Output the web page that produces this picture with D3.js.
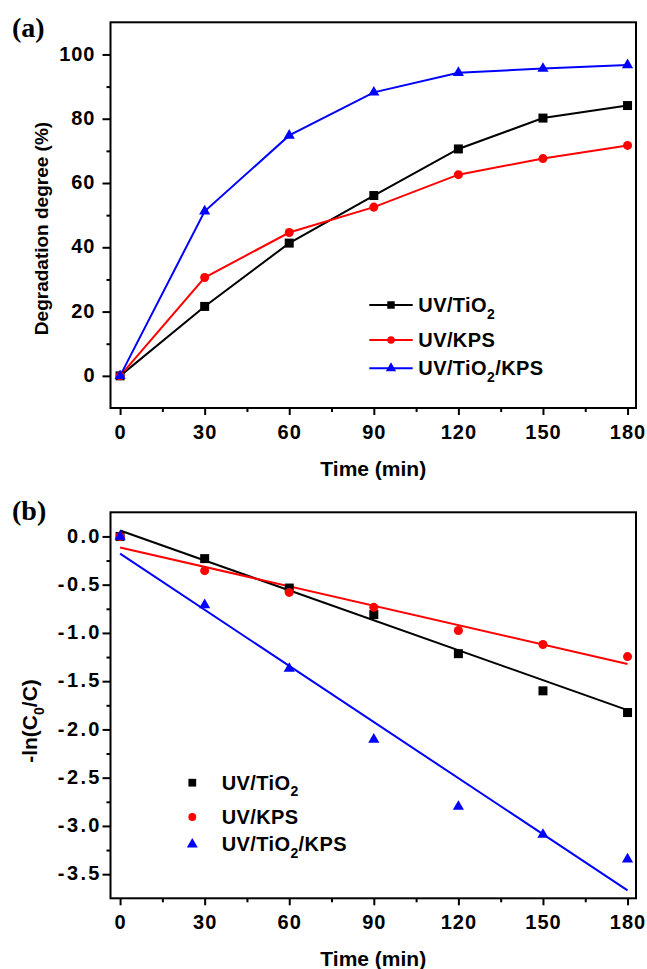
<!DOCTYPE html>
<html>
<head>
<meta charset="utf-8">
<script src="https://cdn.jsdelivr.net/npm/d3@7"></script>
<style>
body { margin: 0; background: #fff; }
svg text { font-family: "Liberation Sans", Arial, sans-serif; font-weight: bold; fill: #000; }
.axis .domain { display: none; }
.axis line { stroke: #000; stroke-width: 2px; }
</style>
</head>
<body>
<div class="mainviz"></div>
<script>
var times = [0, 30, 60, 90, 120, 150, 180];
var seriesNames = ["UV/TiO2", "UV/KPS", "UV/TiO2/KPS"];
var seriesColors = ["#000000", "#ff0000", "#0000ff"];

// (a) degradation degree (%)
var degTiO2 = [0, 21.6, 41.3, 56.1, 70.6, 80.2, 84.1];
var degKPS = [0, 30.6, 44.6, 52.5, 62.6, 67.6, 71.7];
var degTiO2KPS = [0, 51.2, 74.8, 88.2, 94.3, 95.6, 96.7];

// (b) -ln(C0/C)
var lnTiO2 = [0, -0.23, -0.535, -0.81, -1.215, -1.6, -1.825];
var lnKPS = [0, -0.355, -0.58, -0.735, -0.975, -1.12, -1.245];
var lnTiO2KPS = [0, -0.71, -1.37, -2.105, -2.8, -3.09, -3.345];

// fitted lines in (b): value at the first and last time
var fitTimes = [0, 180];
var fitTiO2 = [0.062, -1.80];
var fitKPS = [-0.114, -1.322];
var fitTiO2KPS = [-0.179, -3.668];

var xTicks = [0, 30, 60, 90, 120, 150, 180];
var xMinor = [15, 45, 75, 105, 135, 165];
var yTicksA = [0, 20, 40, 60, 80, 100];
var yMinorA = [10, 30, 50, 70, 90];
var yTicksB = [0, -0.5, -1.0, -1.5, -2.0, -2.5, -3.0, -3.5];
var yMinorB = [-0.25, -0.75, -1.25, -1.75, -2.25, -2.75, -3.25];

var symbols = [d3.symbolSquare, d3.symbolCircle, d3.symbolTriangle];
var symbolSizes = [81, 64, 54];

var width = 647, height = 969;
var plotLeft = 110.5, plotRight = 636;

var svg = d3.select(".mainviz").append("svg")
	.attr("width", width)
	.attr("height", height);

var x = d3.scaleLinear()
	.domain([-3.4, 183])
	.range([plotLeft, plotRight]);

function subLabel(sel, name, size, sub) {
	// "UV/TiO2/KPS" with the 2 written as subscript
	var parts = name.split("2");
	sel.append("tspan").text(parts[0]);
	for (var i = 1; i < parts.length; i++) {
		sel.append("tspan").attr("font-size", sub).attr("dy", 6.5).text("2");
		sel.append("tspan").attr("font-size", size).attr("dy", -6.5).text(parts[i]);
	}
}

function drawPanel(p) {
	var y = d3.scaleLinear()
		.domain(p.domain)
		.range([p.bottom, p.top]);

	var g = svg.append("g");

	// minor ticks
	g.append("g")
		.attr("class", "axis")
		.attr("transform", "translate(0," + p.bottom + ")")
		.call(d3.axisBottom(x).tickValues(xMinor).tickSize(4).tickFormat(""));
	g.append("g")
		.attr("class", "axis")
		.attr("transform", "translate(" + plotLeft + ",0)")
		.call(d3.axisLeft(y).tickValues(p.yMinor).tickSize(4).tickFormat(""));

	// major ticks
	var xa = g.append("g")
		.attr("class", "axis")
		.attr("transform", "translate(0," + p.bottom + ")")
		.call(d3.axisBottom(x).tickValues(xTicks).tickSize(7));
	xa.selectAll("text")
		.attr("y", 31)
		.attr("dy", null)
		.style("font-size", "20px")
		.style("letter-spacing", "1px")
		.style("font-family", "'Liberation Sans', Arial, sans-serif")
		.style("font-weight", "bold");

	var ya = g.append("g")
		.attr("class", "axis")
		.attr("transform", "translate(" + plotLeft + ",0)")
		.call(d3.axisLeft(y).tickValues(p.yTicks).tickSize(8).tickFormat(p.yFormat));
	ya.selectAll("text")
		.attr("x", p.yLabelEnd - plotLeft + p.yLetter)
		.attr("dy", null)
		.attr("y", 5.6)
		.style("font-size", "20px")
		.style("letter-spacing", p.yLetter + "px")
		.style("font-family", "'Liberation Sans', Arial, sans-serif")
		.style("font-weight", "bold");

	// frame
	g.append("rect")
		.attr("x", plotLeft)
		.attr("y", p.top)
		.attr("width", plotRight - plotLeft)
		.attr("height", p.bottom - p.top)
		.attr("fill", "none")
		.attr("stroke", "#000")
		.attr("stroke-width", 2);

	var line = d3.line()
		.x(function(d){ return x(d.t); })
		.y(function(d){ return y(d.v); });

	p.series.forEach(function(vals, i){
		var data = times.map(function(t, k){ return { t: t, v: vals[k] }; });
		if (p.connect) {
			g.append("path")
				.attr("d", line(data))
				.attr("fill", "none")
				.attr("stroke", seriesColors[i])
				.attr("stroke-width", 2);
		}
		if (p.fits) {
			var fd = fitTimes.map(function(t, k){ return { t: t, v: p.fits[i][k] }; });
			g.append("path")
				.attr("d", line(fd))
				.attr("fill", "none")
				.attr("stroke", seriesColors[i])
				.attr("stroke-width", 2);
		}
	});
	p.series.forEach(function(vals, i){
		var data = times.map(function(t, k){ return { t: t, v: vals[k] }; });
		g.selectAll("path.m" + i)
			.data(data)
			.enter().append("path")
			.attr("class", "m" + i)
			.attr("d", d3.symbol().type(symbols[i]).size(symbolSizes[i]))
			.attr("transform", function(d){ return "translate(" + x(d.t) + "," + y(d.v) + ")"; })
			.attr("fill", seriesColors[i]);
	});

	// legend
	seriesNames.forEach(function(name, i){
		var ly = p.legendRows[i];
		if (p.connect) {
			g.append("line")
				.attr("x1", p.legendX - 21.7).attr("x2", p.legendX + 21.7)
				.attr("y1", ly).attr("y2", ly)
				.attr("stroke", seriesColors[i])
				.attr("stroke-width", 2);
		}
		g.append("path")
			.attr("d", d3.symbol().type(symbols[i]).size(p.legendSizes[i]))
			.attr("transform", "translate(" + p.legendX + "," + ly + ")")
			.attr("fill", seriesColors[i]);
		var t = g.append("text")
			.attr("x", p.legendTextX)
			.attr("y", ly + 7)
			.attr("font-size", 20)
			.style("letter-spacing", "0.4px");
		subLabel(t, name, 20, 14);
	});

	// titles
	g.append("text")
		.attr("x", (plotLeft + plotRight) / 2)
		.attr("y", p.bottom + 68)
		.attr("text-anchor", "middle")
		.attr("font-size", 21)
		.text("Time (min)");

	g.append("text")
		.attr("x", 12)
		.attr("y", p.tagY)
		.attr("font-size", 28)
		.style("font-family", "'Liberation Serif', 'Times New Roman', serif")
		.text(p.tag);

	return g;
}

var hyphen = function(f){ return function(v){ return f(v).replace("\u2212", "-"); }; };

var gA = drawPanel({
	top: 22.3, bottom: 408, domain: [-10, 110],
	yTicks: yTicksA, yMinor: yMinorA, yLabelEnd: 94.5, yLetter: 1,
	yFormat: d3.format("d"),
	series: [degTiO2, degKPS, degTiO2KPS],
	connect: true,
	legendX: 391, legendTextX: 418.3, legendRows: [305, 340, 368.3],
	legendSizes: [56, 44, 46],
	tag: "(a)", tagY: 37
});
gA.append("text")
	.attr("transform", "translate(48,228.5) rotate(-90)")
	.attr("text-anchor", "middle")
	.attr("font-size", 19)
	.text("Degradation degree (%)");

var gB = drawPanel({
	top: 512.3, bottom: 898.3, domain: [-3.75, 0.25],
	yTicks: yTicksB, yMinor: yMinorB, yLabelEnd: 99.5, yLetter: 2.4,
	yFormat: hyphen(d3.format(".1f")),
	series: [lnTiO2, lnKPS, lnTiO2KPS],
	connect: false,
	fits: [fitTiO2, fitKPS, fitTiO2KPS],
	legendX: 192.3, legendTextX: 221.7, legendRows: [782.7, 817, 844.3],
	legendSizes: [60, 48, 52],
	tag: "(b)", tagY: 520
});
var yl = gB.append("text")
	.attr("transform", "translate(37,721) rotate(-90)")
	.attr("text-anchor", "middle")
	.attr("font-size", 21);
yl.append("tspan").text("-ln(C");
yl.append("tspan").attr("font-size", 14).attr("dy", 6.5).text("0");
yl.append("tspan").attr("dy", -6.5).text("/C)");
</script>
</body>
</html>
